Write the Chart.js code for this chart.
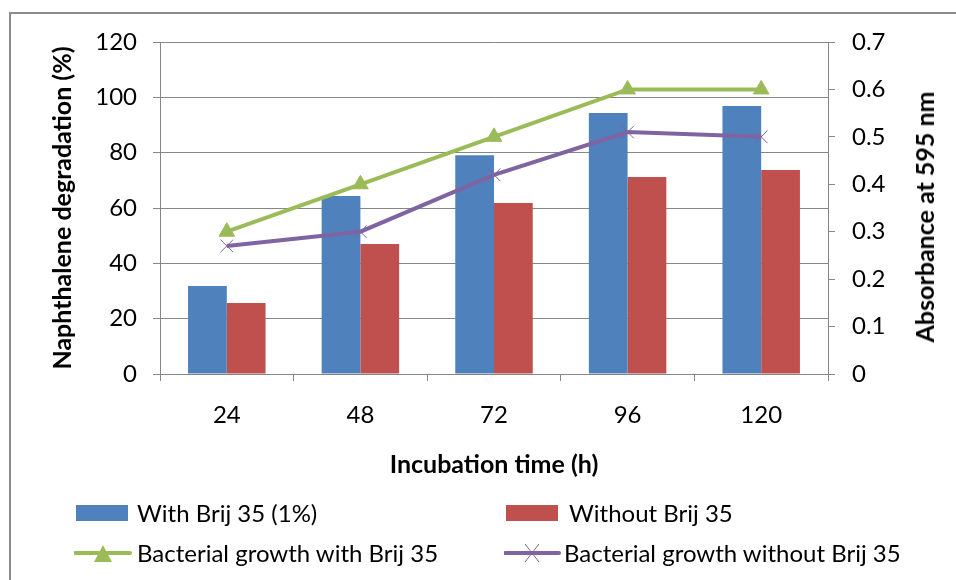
<!DOCTYPE html>
<html>
<head>
<meta charset="utf-8">
<script src="https://cdn.jsdelivr.net/npm/chart.js@4.4.0/dist/chart.umd.min.js"></script>
<style>
    html, body { margin: 0; padding: 0; background: #fff; }
    #wrap { position: relative; width: 956px; height: 580px; overflow: hidden; background: #fff; }
    #marco { position: absolute; left: 9px; top: 12px; right: -5px; bottom: -5px; border-left: 2px solid #8c8c8c; border-top: 2px solid #8c8c8c; }
    #chart { position: absolute; left: 0; top: 0; }
    .ytitle-right { position: absolute; left: 924px; top: 217px; transform: translate(-50%, -50%) rotate(-90deg); white-space: nowrap;
        font: bold 25px Lato, sans-serif; color: #000; }
    .legend-item { position: absolute; font: 24px Lato, sans-serif; color: #000; white-space: nowrap; line-height: 26px; }
    .swatch { position: absolute; }
</style>
</head>
<body>
<div id="wrap">
    <div id="marco"></div>
    <canvas id="chart" width="956" height="580"></canvas>
    <div class="ytitle-right">Absorbance at 595 nm</div>
    <div id="legend"></div>
</div>
<script>
// datos
const tiempos = ['24', '48', '72', '96', '120'];
const conBrij = [31.8, 64.3, 79.1, 94.3, 96.9];
const sinBrij = [25.7, 47.0, 61.8, 71.2, 73.7];
const crecimientoCon = [0.30, 0.40, 0.50, 0.60, 0.60];
const crecimientoSin = [0.27, 0.30, 0.42, 0.51, 0.50];

const AZUL = '#4F81BD', ROJO = '#C0504D', VERDE = '#9BBB59', MORADO = '#8064A2';
const GRIS = '#868686';
const tickFont = { family: 'Lato, sans-serif', size: 24 };
const titleFont = { family: 'Lato, sans-serif', size: 25, weight: 'bold' };

const ctx = document.getElementById('chart');
new Chart(ctx, {
    data: {
        labels: tiempos,
        datasets: [
            { type: 'line', label: 'Bacterial growth with Brij 35', data: crecimientoCon, yAxisID: 'y2', order: 1,
              borderColor: VERDE, backgroundColor: VERDE, borderWidth: 4, pointStyle: 'triangle', pointRadius: 9,
              pointBorderWidth: 1, tension: 0 },
            { type: 'line', label: 'Bacterial growth without Brij 35', data: crecimientoSin, yAxisID: 'y2', order: 0,
              borderColor: MORADO, backgroundColor: MORADO, borderWidth: 4, pointStyle: 'crossRot', pointRadius: 9,
              pointBorderWidth: 1, tension: 0 },
            { type: 'bar', label: 'With Brij 35 (1%)', data: conBrij, yAxisID: 'y', order: 2,
              backgroundColor: AZUL, categoryPercentage: 0.58, barPercentage: 1.0 },
            { type: 'bar', label: 'Without Brij 35', data: sinBrij, yAxisID: 'y', order: 2,
              backgroundColor: ROJO, categoryPercentage: 0.58, barPercentage: 1.0 }
        ]
    },
    options: {
        responsive: false,
        animation: false,
        layout: { padding: { left: 0, right: 0, top: 42, bottom: 96 } },
        plugins: { legend: { display: false }, tooltip: { enabled: false } },
        scales: {
            x: {
                offset: true,
                grid: { offset: true, drawOnChartArea: false, color: GRIS, tickLength: 7 },
                border: { color: GRIS, width: 1 },
                ticks: { font: tickFont, color: '#000', padding: 20 },
                title: { display: true, text: 'Incubation time (h)', font: titleFont, color: '#000', padding: { top: 0, bottom: 4 } },
                afterFit: s => { s.height = 110; }
            },
            y: {
                position: 'left', min: 0, max: 120,
                ticks: { stepSize: 20, font: tickFont, color: '#000', padding: 16 },
                grid: { color: GRIS, tickLength: 7 },
                border: { color: GRIS, width: 1 },
                title: { display: true, text: 'Naphthalene degradation (%)', font: titleFont, color: '#000', padding: { top: 48, bottom: 0 } },
                afterFit: s => { s.width = 160; }
            },
            y2: {
                position: 'right', min: 0, max: 0.7,
                ticks: { stepSize: 0.1, font: tickFont, color: '#000', padding: 17 },
                grid: { drawOnChartArea: false, color: GRIS, tickLength: 7 },
                border: { color: GRIS, width: 1 },
                afterFit: s => { s.width = 128; }
            }
        }
    }
});

// leyenda en HTML, 2 x 2
const legendItems = [
    { text: 'With Brij 35 (1%)', kind: 'box', color: AZUL, x: 76, y: 513, textX: 137 },
    { text: 'Without Brij 35', kind: 'box', color: ROJO, x: 506, y: 513, textX: 569 },
    { text: 'Bacterial growth with Brij 35', kind: 'tri', color: VERDE, x: 74, y: 553, textX: 137 },
    { text: 'Bacterial growth without Brij 35', kind: 'cross', color: MORADO, x: 504, y: 553, textX: 564 }
];
const legend = document.getElementById('legend');
legendItems.forEach(item => {
    const sw = document.createElementNS('http://www.w3.org/2000/svg', 'svg');
    sw.setAttribute('class', 'swatch');
    sw.setAttribute('width', '58');
    sw.setAttribute('height', '24');
    sw.style.left = item.x + 'px';
    sw.style.top = (item.y - 12) + 'px';
    if (item.kind === 'box') {
        sw.innerHTML = `<rect x="0" y="4" width="52" height="16" fill="${item.color}"/>`;
    } else if (item.kind === 'tri') {
        sw.innerHTML = `<line x1="1" y1="12" x2="56" y2="12" stroke="${item.color}" stroke-width="4" stroke-linecap="round"/>
            <polygon points="29,4 38,21 20,21" fill="${item.color}"/>`;
    } else {
        sw.innerHTML = `<line x1="1" y1="12" x2="55" y2="12" stroke="${item.color}" stroke-width="4" stroke-linecap="round"/>
            <line x1="21" y1="3" x2="35" y2="21" stroke="${item.color}" stroke-width="1"/>
            <line x1="35" y1="3" x2="21" y2="21" stroke="${item.color}" stroke-width="1"/>`;
    }
    legend.appendChild(sw);
    const t = document.createElement('div');
    t.className = 'legend-item';
    t.textContent = item.text;
    t.style.left = item.textX + 'px';
    t.style.top = (item.y - 13) + 'px';
    legend.appendChild(t);
});
</script>
</body>
</html>
